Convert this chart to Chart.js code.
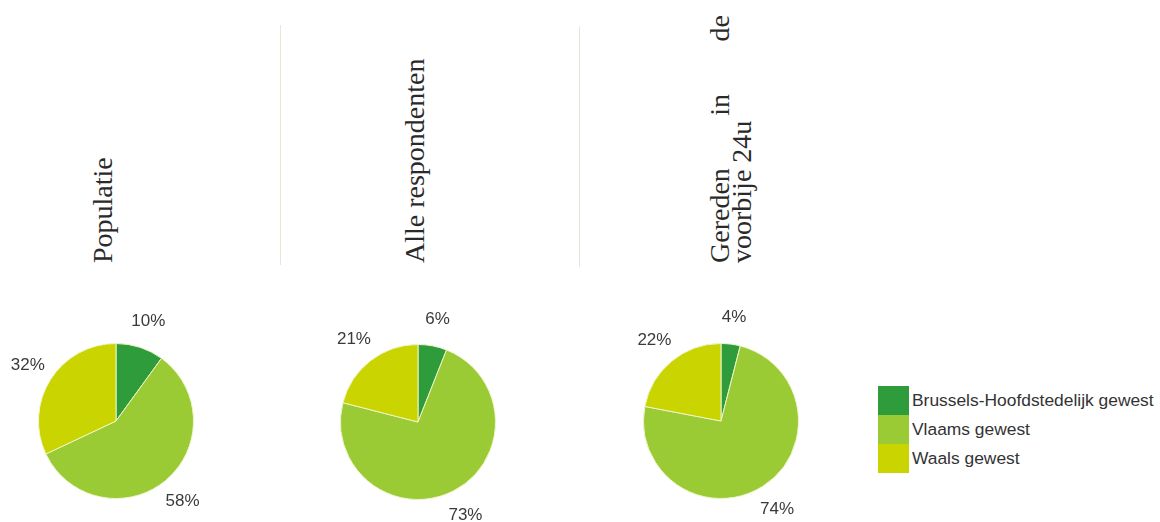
<!DOCTYPE html>
<html lang="nl">
<head>
<meta charset="utf-8">
<title>Gewest</title>
<script src="https://cdn.jsdelivr.net/npm/chart.js@4.4.1/dist/chart.umd.min.js"></script>
<style>
  html, body { margin: 0; padding: 0; background: #fff; }
  body { position: relative; width: 1160px; height: 522px; overflow: hidden; }
  .kop {
    position: absolute;
    transform-origin: 0 0;
    transform: rotate(-90deg);
    font-family: "Liberation Serif", "DejaVu Serif", serif;
    font-size: 28px;
    line-height: 22px;
    color: #2a2a2a;
    white-space: nowrap;
  }
  .kop .regel { display: flex; justify-content: space-between; }
  .scheiding { position: absolute; width: 1px; background: #e9e5d8; }
  .taart { position: absolute; }
  #legende {
    position: absolute; left: 878px; top: 386px;
    font-family: "Liberation Sans", Arial, sans-serif; font-size: 17.4px; color: #333;
  }
  #legende .item { display: flex; align-items: center; height: 29px; }
  #legende .blok { width: 31px; height: 29px; margin-right: 3px; }
</style>
</head>
<body>

<div class="kop" id="kop0" style="left:92px; top:263px;"></div>
<div class="kop" id="kop1" style="left:404px; top:263px;"></div>
<div class="kop" id="kop2" style="left:709px; top:263px; width:248px;"></div>

<div class="scheiding" style="left:280px; top:25px; height:240px;"></div>
<div class="scheiding" style="left:579px; top:26px; height:241px;"></div>

<canvas class="taart" id="taart0" width="240" height="240" style="left:-4px; top:301px;"></canvas>
<canvas class="taart" id="taart1" width="240" height="240" style="left:298px; top:302px;"></canvas>
<canvas class="taart" id="taart2" width="240" height="240" style="left:601px; top:301px;"></canvas>

<div id="legende"></div>

<script>
const gewesten = ['Brussels-Hoofdstedelijk gewest', 'Vlaams gewest', 'Waals gewest'];
const kleuren = ['#2f9c3b', '#9acb34', '#c9d400'];

const titels = ['Populatie', 'Alle respondenten', 'Gereden in de voorbije 24u'];
const populatie = [10, 58, 32];
const alleRespondenten = [6, 73, 21];
const gereden24u = [4, 74, 22];

// koppen boven de taarten
document.getElementById('kop0').textContent = titels[0];
document.getElementById('kop1').textContent = titels[1];
const woorden = titels[2].split(' ');
document.getElementById('kop2').innerHTML =
  '<div class="regel">' + woorden.slice(0, 3).map(w => `<span>${w}</span>`).join('') + '</div>' +
  '<div>' + woorden.slice(3).join(' ') + '</div>';

// percentages buiten elke schijf
const labelsBuiten = {
  id: 'labelsBuiten',
  afterDatasetsDraw(chart) {
    const ctx = chart.ctx;
    const waarden = chart.data.datasets[0].data;
    ctx.save();
    ctx.font = '17px "Liberation Sans", Arial, sans-serif';
    ctx.fillStyle = '#3a3a3a';
    ctx.textAlign = 'center';
    ctx.textBaseline = 'middle';
    chart.getDatasetMeta(0).data.forEach((arc, i) => {
      const hoek = (arc.startAngle + arc.endAngle) / 2;
      const r = arc.outerRadius + 27;
      ctx.fillText(waarden[i] + '%', arc.x + Math.cos(hoek) * r, arc.y + Math.sin(hoek) * r);
    });
    ctx.restore();
  }
};

function maakTaart(id, waarden) {
  new Chart(document.getElementById(id), {
    type: 'pie',
    data: {
      labels: gewesten,
      datasets: [{
        data: waarden,
        backgroundColor: kleuren,
        borderColor: '#eef5c8',
        borderWidth: 1
      }]
    },
    options: {
      responsive: false,
      animation: false,
      layout: { padding: 42 },
      plugins: {
        legend: { display: false },
        tooltip: { enabled: false }
      }
    },
    plugins: [labelsBuiten]
  });
}

maakTaart('taart0', populatie);
maakTaart('taart1', alleRespondenten);
maakTaart('taart2', gereden24u);

// legende
let template = '';
gewesten.forEach((g, i) => {
  template += `<div class="item"><div class="blok" style="background:${kleuren[i]}"></div><span>${g}</span></div>`;
});
document.getElementById('legende').innerHTML = template;
</script>
</body>
</html>
